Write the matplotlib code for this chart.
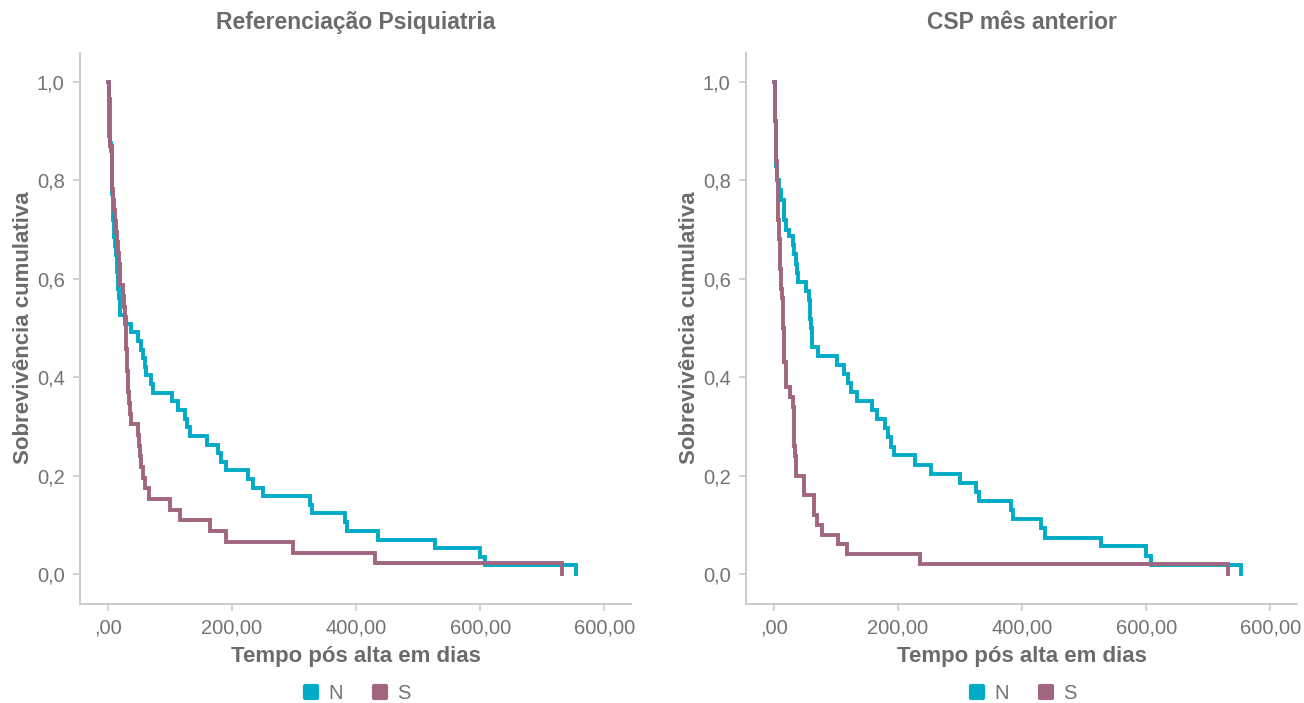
import matplotlib
matplotlib.use("Agg")
import matplotlib.pyplot as plt
from matplotlib.lines import Line2D
from matplotlib.markers import MarkerStyle

plt.rcParams['font.family'] = ['Liberation Sans Narrow', 'Liberation Sans', 'DejaVu Sans']

# ---------------- data ----------------
titles = ["Referenciação Psiquiatria", "CSP mês anterior"]
groups = ["N", "S"]
x_ticks = [0, 200, 400, 600, 800]
x_tick_labels = [",00", "200,00", "400,00", "600,00", "600,00"]
y_ticks = [0.0, 0.2, 0.4, 0.6, 0.8, 1.0]
y_tick_labels = ["0,0", "0,2", "0,4", "0,6", "0,8", "1,0"]
x_label = "Tempo pós alta em dias"
y_label = "Sobrevivência cumulativa"

# Referenciação Psiquiatria, group N
ref_n_t = [0, 1, 2, 3, 4, 5, 6, 7, 8, 9, 10, 12, 13, 14, 16, 17, 18, 19, 20,
           27, 37, 49, 54, 56, 59, 62, 70, 73, 103, 113, 124, 127, 132, 159,
           178, 183, 191, 226, 234, 250, 326, 329, 382, 385, 436, 527, 600,
           608, 755]
ref_n_s = [1.0, 0.982, 0.965, 0.930, 0.877, 0.860, 0.825, 0.772, 0.719, 0.702,
           0.684, 0.667, 0.649, 0.614, 0.596, 0.579, 0.561, 0.544, 0.526,
           0.509, 0.491, 0.474, 0.456, 0.439, 0.421, 0.404, 0.386, 0.368,
           0.351, 0.333, 0.316, 0.298, 0.281, 0.263, 0.246, 0.228, 0.211,
           0.193, 0.175, 0.158, 0.140, 0.123, 0.105, 0.088, 0.070, 0.053,
           0.035, 0.018, 0.0]

# Referenciação Psiquiatria, group S
ref_s_t = [0, 1, 2, 4, 6, 7, 8, 10, 11, 13, 14, 17, 18, 19, 20, 24, 26, 28,
           29, 31, 33, 34, 36, 37, 48, 50, 52, 54, 57, 59, 66, 100, 116, 165,
           190, 299, 431, 732]
ref_s_s = [1.0, 0.978, 0.891, 0.870, 0.848, 0.783, 0.761, 0.739, 0.717, 0.696,
           0.674, 0.652, 0.630, 0.609, 0.587, 0.565, 0.543, 0.522, 0.457,
           0.413, 0.370, 0.348, 0.326, 0.304, 0.283, 0.261, 0.239, 0.217,
           0.196, 0.174, 0.152, 0.130, 0.109, 0.087, 0.065, 0.043, 0.022, 0.0]

# CSP mês anterior, group N
csp_n_t = [0, 1, 2, 3, 4, 5, 8, 12, 16, 19, 24, 30, 33, 35, 37, 38, 52, 56,
           58, 60, 61, 62, 71, 101, 113, 120, 125, 134, 158, 166, 179, 184,
           188, 193, 227, 253, 300, 326, 330, 382, 385, 431, 437, 527, 599,
           608, 753]
csp_n_s = [1.0, 0.96, 0.92, 0.87, 0.83, 0.80, 0.78, 0.76, 0.72, 0.70, 0.686,
           0.669, 0.65, 0.63, 0.612, 0.594, 0.575, 0.556, 0.519, 0.500, 0.481,
           0.462, 0.444, 0.425, 0.407, 0.389, 0.370, 0.352, 0.333, 0.315,
           0.296, 0.278, 0.259, 0.241, 0.222, 0.204, 0.185, 0.167, 0.148,
           0.130, 0.111, 0.093, 0.074, 0.056, 0.037, 0.0185, 0.0]

# CSP mês anterior, group S
csp_s_t = [0, 1, 2, 3, 4, 5, 6, 7, 8, 9, 10, 11, 12, 13, 14, 15, 16, 17, 19,
           20, 26, 31, 32, 33, 34, 35, 49, 64, 69, 77, 104, 118, 235, 731]
csp_s_s = [1.0, 0.96, 0.92, 0.88, 0.84, 0.80, 0.76, 0.72, 0.68, 0.64, 0.62,
           0.60, 0.58, 0.56, 0.52, 0.50, 0.46, 0.43, 0.40, 0.38, 0.36, 0.34,
           0.30, 0.26, 0.24, 0.20, 0.16, 0.12, 0.10, 0.08, 0.06, 0.04, 0.02,
           0.0]

panels = [
    (titles[0], [(ref_n_t, ref_n_s), (ref_s_t, ref_s_s)]),
    (titles[1], [(csp_n_t, csp_n_s), (csp_s_t, csp_s_s)]),
]

# ---------------- style ----------------
colors = ["#00ABC8", "#A0657F"]
text_grey = "#6B6B6B"
tick_grey = "#737373"
spine_grey = "#CBCBCB"

W, H = 1304, 703
fig = plt.figure(figsize=(W / 100, H / 100), dpi=100)

ax_lefts_px = [80, 746]
ax_w_px = 551
ax_top_px, ax_bot_px = 52.5, 603.5

for i, (title, series) in enumerate(panels):
    ax = fig.add_axes([ax_lefts_px[i] / W, (H - ax_bot_px) / H,
                       ax_w_px / W, (ax_bot_px - ax_top_px) / H])
    for (t, s), c in zip(series, colors):
        ax.step(t, s, where="post", color=c, lw=2.8, solid_joinstyle="miter")
    ax.set_xlim(-45, 843)
    ax.set_ylim(-0.06, 1.06)
    ax.set_xticks(x_ticks)
    ax.set_xticklabels(x_tick_labels)
    ax.set_yticks(y_ticks)
    ax.set_yticklabels(y_tick_labels)
    for sp in ["top", "right"]:
        ax.spines[sp].set_visible(False)
    for sp in ["left", "bottom"]:
        ax.spines[sp].set_color(spine_grey)
        ax.spines[sp].set_linewidth(1.4)
    ax.tick_params(axis="both", colors=spine_grey, width=1.2, length=5,
                   labelcolor=tick_grey, labelsize=14.5, pad=6)
    ax.set_title(title, fontsize=16.5, fontweight="bold", color=text_grey, pad=17)
    ax.set_xlabel(x_label, fontsize=16, fontweight="bold", color=text_grey, labelpad=6)
    ax.set_ylabel(y_label, fontsize=16, fontweight="bold", color=text_grey, labelpad=2)

    handles = [Line2D([], [], linestyle="none",
                      marker=MarkerStyle("s", joinstyle="round"),
                      markersize=8, markerfacecolor=c, markeredgecolor=c,
                      markeredgewidth=3) for c in colors]
    ax.legend(handles, groups, loc="center", bbox_to_anchor=(0.5, -0.163),
              ncol=2, frameon=False, fontsize=14.5, labelcolor=tick_grey,
              handletextpad=0.35, columnspacing=1.35, handlelength=1.0)

fig.savefig("out.png", dpi=100)
